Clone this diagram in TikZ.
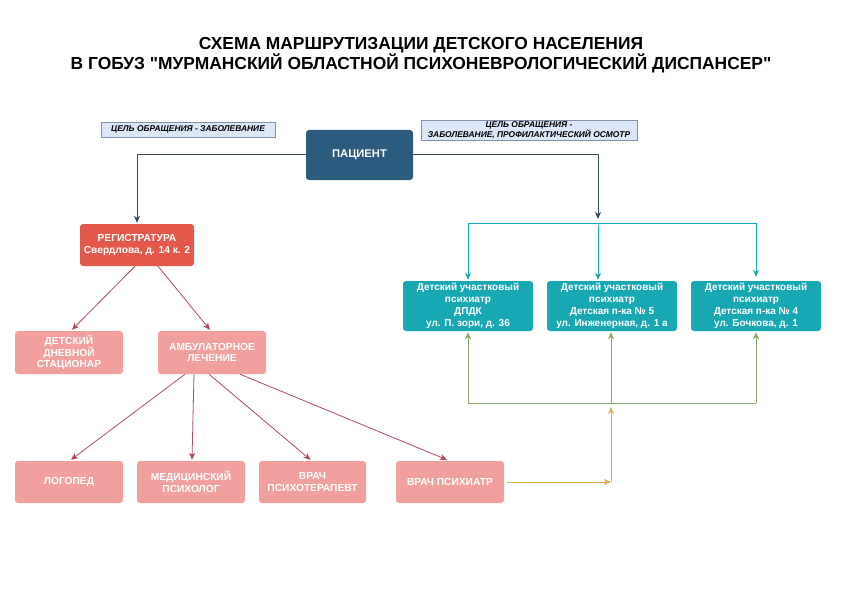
\documentclass[tikz,border=0pt]{standalone}
\usepackage{fontspec}
\setmainfont{Liberation Sans}
\usetikzlibrary{arrows.meta}
\definecolor{patblue}{HTML}{2D5B7E}
\definecolor{darkline}{HTML}{34495E}
\definecolor{regred}{HTML}{E2584A}
\definecolor{pinkbox}{HTML}{F1A09E}
\definecolor{tealbox}{HTML}{17A8B4}
\definecolor{redline}{HTML}{B04A5A}
\definecolor{greenline}{HTML}{8AAA6A}
\definecolor{yellowline}{HTML}{D9B44A}
\definecolor{notefill}{HTML}{DCE8FA}
\definecolor{notedraw}{HTML}{8090A8}
\tikzset{
  box/.style={rounded corners=3pt, text=white, font=\bfseries\fontsize{10.2}{11.8}\selectfont, align=center, inner sep=2pt},
  patbox/.style={box, fill=patblue, minimum width=107pt, minimum height=50pt, font=\bfseries\fontsize{11.2}{13}\selectfont},
  regbox/.style={box, fill=regred, minimum width=114pt, minimum height=42pt},
  pinkb/.style={box, fill=pinkbox, minimum width=108pt, minimum height=43pt},
  tealb/.style={box, fill=tealbox, minimum width=130pt, minimum height=50pt, font=\bfseries\fontsize{10}{11.8}\selectfont},
  note/.style={fill=notefill, draw=notedraw, line width=0.6pt, font=\bfseries\itshape\fontsize{8.4}{9.5}\selectfont, align=center, inner sep=1pt},
  tip/.style={-{Stealth[length=7pt,width=6pt,inset=2pt]}},
  darkarrow/.style={draw=darkline, line width=1pt, tip},
  tealarrow/.style={draw=tealbox, line width=1pt, tip},
  redarrow/.style={draw=redline, line width=0.8pt, tip},
  greenarrow/.style={draw=greenline, line width=1pt, tip},
  yellowarrow/.style={draw=yellowline, line width=1pt, tip},
}
\begin{document}
\begin{tikzpicture}[x=1pt, y=-1pt]
\useasboundingbox (0,0) rectangle (842,596);
\fill[white] (0,0) rectangle (842,596);
% title
\node[font=\bfseries\fontsize{17.4}{19.5}\selectfont, align=center] (title) at (421,55)
  {СХЕМА МАРШРУТИЗАЦИИ ДЕТСКОГО НАСЕЛЕНИЯ\\В ГОБУЗ \textquotedbl МУРМАНСКИЙ ОБЛАСТНОЙ ПСИХОНЕВРОЛОГИЧЕСКИЙ ДИСПАНСЕР\textquotedbl};
% notes
\node[note, minimum width=174pt, minimum height=15pt] (note1) at (188,129.5) {ЦЕЛЬ ОБРАЩЕНИЯ - ЗАБОЛЕВАНИЕ};
\node[note, minimum width=216pt, minimum height=20pt] (note2) at (529,130) {ЦЕЛЬ ОБРАЩЕНИЯ -\\ЗАБОЛЕВАНИЕ, ПРОФИЛАКТИЧЕСКИЙ ОСМОТР};
% nodes
\node[patbox] (pat) at (359.5,155) {ПАЦИЕНТ};
\node[regbox] (reg) at (137,245) {РЕГИСТРАТУРА\\Свердлова, д. 14 к. 2};
\node[pinkb] (dds) at (69,352.5) {ДЕТСКИЙ\\ДНЕВНОЙ\\СТАЦИОНАР};
\node[pinkb] (amb) at (212,352.5) {АМБУЛАТОРНОЕ\\ЛЕЧЕНИЕ};
\node[pinkb, minimum height=42pt] (logo) at (69,482) {ЛОГОПЕД};
\node[pinkb, minimum height=42pt] (mpsy) at (191,482) {МЕДИЦИНСКИЙ\\ПСИХОЛОГ};
\node[pinkb, minimum height=42pt, minimum width=107pt] (ther) at (312.5,482) {ВРАЧ\\ПСИХОТЕРАПЕВТ};
\node[pinkb, minimum height=42pt] (psych) at (450,482) {ВРАЧ ПСИХИАТР};
\node[tealb] (t1) at (468,306) {Детский участковый\\психиатр\\ДПДК\\ул. П. зори, д. 36};
\node[tealb] (t2) at (612,306) {Детский участковый\\психиатр\\Детская п-ка № 5\\ул. Инженерная, д. 1 а};
\node[tealb] (t3) at (756,306) {Детский участковый\\психиатр\\Детская п-ка № 4\\ул. Бочкова, д. 1};
% coordinates
\coordinate (split) at (598,223);
\coordinate (splittop) at (598,219);
\coordinate (hub) at (611,403);
\coordinate (hubin) at (611,407);
\coordinate (ycorner) at (611,482);
% patient connectors
\draw[darkarrow] (pat.west) -| ([yshift=1pt]reg.north);
\draw[darkarrow] (pat.east) -| (splittop);
% teal distribution
\draw[draw=tealbox, line width=1pt] (split -| t1.north) -- (split -| t3.north);
\draw[tealarrow] (split -| t1.north) -- ([yshift=1pt]t1.north);
\draw[tealarrow] ([yshift=-2pt]split) -- ([yshift=1pt]split |- t2.north);
\draw[tealarrow] (split -| t3.north) -- ([yshift=4pt]t3.north);
% red arrows
\draw[redarrow] ([xshift=-2pt]reg.south) -- ([xshift=3pt,yshift=1pt]dds.north);
\draw[redarrow] ([xshift=21pt]reg.south) -- ([xshift=-2pt,yshift=1pt]amb.north);
\draw[redarrow] ([xshift=-27pt]amb.south) -- ([xshift=2pt,yshift=1pt]logo.north);
\draw[redarrow] ([xshift=-18pt]amb.south) -- ([xshift=1pt,yshift=1pt]mpsy.north);
\draw[redarrow] ([xshift=-3pt]amb.south) -- ([xshift=-2pt,yshift=1pt]ther.north);
\draw[redarrow] ([xshift=28pt]amb.south) -- ([xshift=-3pt,yshift=1pt]psych.north);
% green
\draw[draw=greenline, line width=1pt] (hub -| t1.south) -- (hub -| t3.south);
\draw[greenarrow] (hub -| t1.south) -- ([yshift=-1pt]t1.south);
\draw[greenarrow] (hub) -- ([yshift=-1pt]hub |- t2.south);
\draw[greenarrow] (hub -| t3.south) -- ([yshift=-1pt]t3.south);
% yellow
\draw[yellowarrow] ([xshift=3pt]psych.east) -- (ycorner);
\draw[yellowarrow] (ycorner) -- (hubin);
\end{tikzpicture}
\end{document}
